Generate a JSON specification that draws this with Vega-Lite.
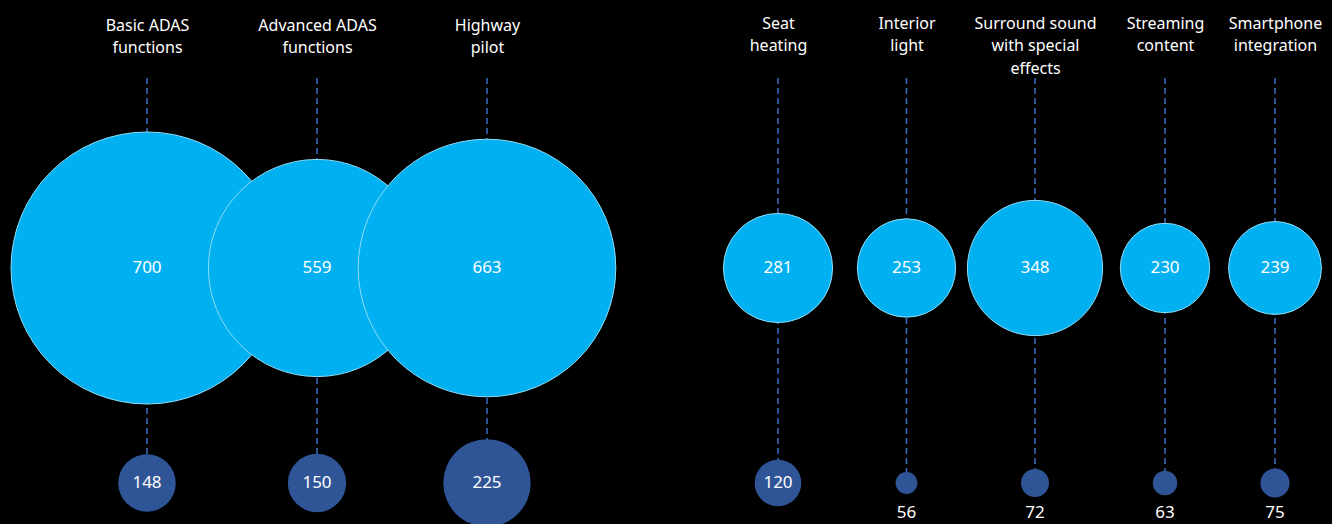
{
  "$schema": "https://vega.github.io/schema/vega-lite/v6.json",
  "width": 1332,
  "height": 405,
  "autosize": "none",
  "padding": {"top": 78, "left": 0, "right": 0, "bottom": 41},
  "background": "#000000",
  "config": {
    "view": {"stroke": null},
    "font": "Noto Sans",
    "axisX": {
      "title": null, "domain": false, "ticks": false, "tickSize": 0, "grid": false,
      "labelBaseline": "top", "labelAngle": 0, "labelColor": "#ffffff",
      "labelFontSize": 16, "labelLineHeight": 22.5, "labelLimit": 0, "labelOverlap": false, "labelBound": false
    }
  },
  "data": {
    "values": [
      {"group": "ADAS", "feature": "Basic ADAS\nfunctions", "tier": "upper", "value": 700},
      {"group": "ADAS", "feature": "Advanced ADAS\nfunctions", "tier": "upper", "value": 559},
      {"group": "ADAS", "feature": "Highway\npilot", "tier": "upper", "value": 663},
      {"group": "ADAS", "feature": "Basic ADAS\nfunctions", "tier": "lower", "value": 148},
      {"group": "ADAS", "feature": "Advanced ADAS\nfunctions", "tier": "lower", "value": 150},
      {"group": "ADAS", "feature": "Highway\npilot", "tier": "lower", "value": 225},
      {"group": "Comfort", "feature": "Seat\nheating", "tier": "upper", "value": 281},
      {"group": "Comfort", "feature": "Interior\nlight", "tier": "upper", "value": 253},
      {"group": "Comfort", "feature": "Surround sound\nwith special\neffects", "tier": "upper", "value": 348},
      {"group": "Comfort", "feature": "Streaming\ncontent", "tier": "upper", "value": 230},
      {"group": "Comfort", "feature": "Smartphone\nintegration", "tier": "upper", "value": 239},
      {"group": "Comfort", "feature": "Seat\nheating", "tier": "lower", "value": 120},
      {"group": "Comfort", "feature": "Interior\nlight", "tier": "lower", "value": 56},
      {"group": "Comfort", "feature": "Surround sound\nwith special\neffects", "tier": "lower", "value": 72},
      {"group": "Comfort", "feature": "Streaming\ncontent", "tier": "lower", "value": 63},
      {"group": "Comfort", "feature": "Smartphone\nintegration", "tier": "lower", "value": 75}
    ]
  },
  "resolve": {"scale": {"x": "independent"}, "axis": {"x": "independent"}},
  "layer": [
    {
      "transform": [{"filter": "datum.group === 'ADAS'"}],
      "encoding": {
        "x": {
          "field": "feature", "type": "nominal", "sort": null,
          "scale": {"type": "point", "range": [147, 487], "padding": 0},
          "axis": {"orient": "top", "labelPadding": 61, "labelExpr": "split(datum.label, '\\n')"}
        }
      },
      "layer": [
        {
          "transform": [{"filter": "datum.tier === 'upper'"}],
          "mark": {"type": "rule", "color": "#3A6FC4", "strokeWidth": 1.5, "strokeDash": [6, 4]},
          "encoding": {}
        },
        {
          "transform": [{"filter": "datum.tier === 'upper'"}],
          "mark": {"type": "circle", "opacity": 1, "color": "#00B0F0", "stroke": "#8FDCF8", "strokeWidth": 1},
          "encoding": {
            "y": {"field": "tier", "type": "nominal", "scale": {"type": "point", "domain": ["upper", "lower"], "range": [190, 405], "padding": 0}, "axis": null},
            "size": {"field": "value", "type": "quantitative", "scale": {"type": "pow", "exponent": 2, "domain": [0, 700], "range": [0, 73984]}, "legend": null}
          }
        },
        {
          "transform": [{"filter": "datum.tier === 'lower'"}],
          "mark": {"type": "circle", "opacity": 1, "color": "#2F5597"},
          "encoding": {
            "y": {"field": "tier", "type": "nominal", "axis": null},
            "size": {"field": "value", "type": "quantitative", "legend": null}
          }
        },
        {
          "transform": [{"filter": "datum.value >= 100"}],
          "mark": {"type": "text", "color": "#ffffff", "fontSize": 17, "baseline": "middle"},
          "encoding": {
            "y": {"field": "tier", "type": "nominal", "axis": null},
            "text": {"field": "value", "type": "quantitative"}
          }
        }
      ]
    },
    {
      "transform": [{"filter": "datum.group === 'Comfort' && indexof(['Seat\\nheating', 'Interior\\nlight', 'Surround sound\\nwith special\\neffects'], datum.feature) >= 0"}],
      "encoding": {
        "x": {
          "field": "feature", "type": "nominal", "sort": null,
          "scale": {"type": "point", "range": [778, 1035], "padding": 0},
          "axis": {"orient": "top", "labelPadding": 63, "labelExpr": "split(datum.label, '\\n')"}
        }
      },
      "layer": [
        {
          "transform": [{"filter": "datum.tier === 'upper'"}],
          "mark": {"type": "rule", "color": "#3A6FC4", "strokeWidth": 1.5, "strokeDash": [6, 4]},
          "encoding": {}
        },
        {
          "transform": [{"filter": "datum.tier === 'upper'"}],
          "mark": {"type": "circle", "opacity": 1, "color": "#00B0F0", "stroke": "#8FDCF8", "strokeWidth": 1},
          "encoding": {
            "y": {"field": "tier", "type": "nominal", "axis": null},
            "size": {"field": "value", "type": "quantitative", "legend": null}
          }
        },
        {
          "transform": [{"filter": "datum.tier === 'lower'"}],
          "mark": {"type": "circle", "opacity": 1, "color": "#2F5597"},
          "encoding": {
            "y": {"field": "tier", "type": "nominal", "axis": null},
            "size": {"field": "value", "type": "quantitative", "legend": null}
          }
        },
        {
          "transform": [{"filter": "datum.value >= 100"}],
          "mark": {"type": "text", "color": "#ffffff", "fontSize": 17, "baseline": "middle"},
          "encoding": {
            "y": {"field": "tier", "type": "nominal", "axis": null},
            "text": {"field": "value", "type": "quantitative"}
          }
        },
        {
          "transform": [{"filter": "datum.value < 100"}],
          "mark": {"type": "text", "color": "#ffffff", "fontSize": 17, "baseline": "middle", "dy": 30},
          "encoding": {
            "y": {"field": "tier", "type": "nominal", "axis": null},
            "text": {"field": "value", "type": "quantitative"}
          }
        }
      ]
    },
    {
      "transform": [{"filter": "datum.group === 'Comfort' && indexof(['Streaming\\ncontent', 'Smartphone\\nintegration'], datum.feature) >= 0"}],
      "encoding": {
        "x": {
          "field": "feature", "type": "nominal", "sort": null,
          "scale": {"type": "point", "range": [1165, 1275], "padding": 0},
          "axis": {"orient": "top", "labelPadding": 63, "labelExpr": "split(datum.label, '\\n')"}
        }
      },
      "layer": [
        {
          "transform": [{"filter": "datum.tier === 'upper'"}],
          "mark": {"type": "rule", "color": "#3A6FC4", "strokeWidth": 1.5, "strokeDash": [6, 4]},
          "encoding": {}
        },
        {
          "transform": [{"filter": "datum.tier === 'upper'"}],
          "mark": {"type": "circle", "opacity": 1, "color": "#00B0F0", "stroke": "#8FDCF8", "strokeWidth": 1},
          "encoding": {
            "y": {"field": "tier", "type": "nominal", "axis": null},
            "size": {"field": "value", "type": "quantitative", "legend": null}
          }
        },
        {
          "transform": [{"filter": "datum.tier === 'lower'"}],
          "mark": {"type": "circle", "opacity": 1, "color": "#2F5597"},
          "encoding": {
            "y": {"field": "tier", "type": "nominal", "axis": null},
            "size": {"field": "value", "type": "quantitative", "legend": null}
          }
        },
        {
          "transform": [{"filter": "datum.value >= 100"}],
          "mark": {"type": "text", "color": "#ffffff", "fontSize": 17, "baseline": "middle"},
          "encoding": {
            "y": {"field": "tier", "type": "nominal", "axis": null},
            "text": {"field": "value", "type": "quantitative"}
          }
        },
        {
          "transform": [{"filter": "datum.value < 100"}],
          "mark": {"type": "text", "color": "#ffffff", "fontSize": 17, "baseline": "middle", "dy": 30},
          "encoding": {
            "y": {"field": "tier", "type": "nominal", "axis": null},
            "text": {"field": "value", "type": "quantitative"}
          }
        }
      ]
    }
  ]
}
